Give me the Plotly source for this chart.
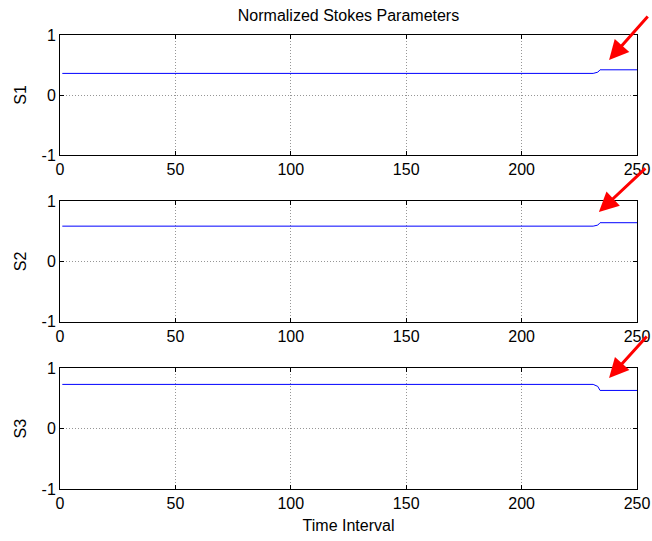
import plotly.graph_objects as go
from plotly.subplots import make_subplots

# ---- data ----
time = [1, 231, 233, 234, 250]
S1 = [0.36, 0.36, 0.38, 0.42, 0.42]
S2 = [0.583, 0.583, 0.60, 0.64, 0.64]
S3 = [0.733, 0.733, 0.70, 0.633, 0.633]
series_names = ["S1", "S2", "S3"]
x_ticks = [0, 50, 100, 150, 200, 250]
y_ticks = [-1, 0, 1]
# arrow tips (data coords) and tail offsets (pixels)
arrow_tip_x = [237.9, 233.5, 237.9]
arrow_tip_y = [0.583, 0.818, 0.839]
arrow_ax = [40, 48, 39]
arrow_ay = [-45, -45, -43]

fig = make_subplots(rows=3, cols=1, shared_xaxes=False, vertical_spacing=0.1)

for i, s in enumerate([S1, S2, S3]):
    fig.add_trace(go.Scatter(x=time, y=s, mode="lines",
                             line=dict(color="rgb(0,0,255)", width=1),
                             showlegend=False, cliponaxis=False), row=i + 1, col=1)

font = dict(family="Liberation Sans, Arial, sans-serif", size=16, color="black")

domains = [[0.7357, 1.0], [0.3685, 0.6344], [0.0, 0.2659]]
for i in range(3):
    xa = "xaxis" if i == 0 else f"xaxis{i+1}"
    ya = "yaxis" if i == 0 else f"yaxis{i+1}"
    fig.layout[xa].update(
        range=[0, 250], tickvals=x_ticks, ticktext=[str(t) for t in x_ticks],
        showline=True, linecolor="black", linewidth=1, mirror="ticks",
        ticks="inside", ticklen=4, tickcolor="black",
        showgrid=True, gridcolor="rgb(150,150,150)", griddash="1px,2px", gridwidth=1,
        zeroline=False, tickfont=font, automargin=False,
    )
    fig.layout[ya].update(
        domain=domains[i], range=[-1, 1], tickvals=y_ticks,
        ticktext=[str(t) for t in y_ticks],
        showline=True, linecolor="black", linewidth=1, mirror="ticks",
        ticks="inside", ticklen=4, tickcolor="black",
        showgrid=True, gridcolor="rgb(150,150,150)", griddash="1px,2px", gridwidth=1,
        zeroline=False, tickfont=font, automargin=False,
        title=dict(text=series_names[i], font=font, standoff=10),
    )

fig.layout.xaxis3.title = dict(text="Time Interval", font=font, standoff=8)

for i in range(3):
    xr = "x" if i == 0 else f"x{i+1}"
    yr = "y" if i == 0 else f"y{i+1}"
    fig.add_annotation(x=arrow_tip_x[i], y=arrow_tip_y[i], xref=xr, yref=yr,
                       text="", showarrow=True, ax=arrow_ax[i], ay=arrow_ay[i],
                       arrowhead=2, arrowsize=1.3, arrowwidth=3,
                       arrowcolor="rgb(255,0,0)", standoff=0)

fig.update_layout(
    width=652, height=541,
    margin=dict(l=60, r=15, t=35, b=52, autoexpand=False),
    paper_bgcolor="white", plot_bgcolor="white",
    title=dict(text="Normalized Stokes Parameters", font=font,
               x=0.5, xref="paper", y=1 - 15 / 541, yref="container",
               xanchor="center", yanchor="middle", automargin=False),
)

fig.write_html("out.html", config={"displayModeBar": False},
               post_script="document.body.style.margin='0px';document.body.style.overflow='hidden';")
